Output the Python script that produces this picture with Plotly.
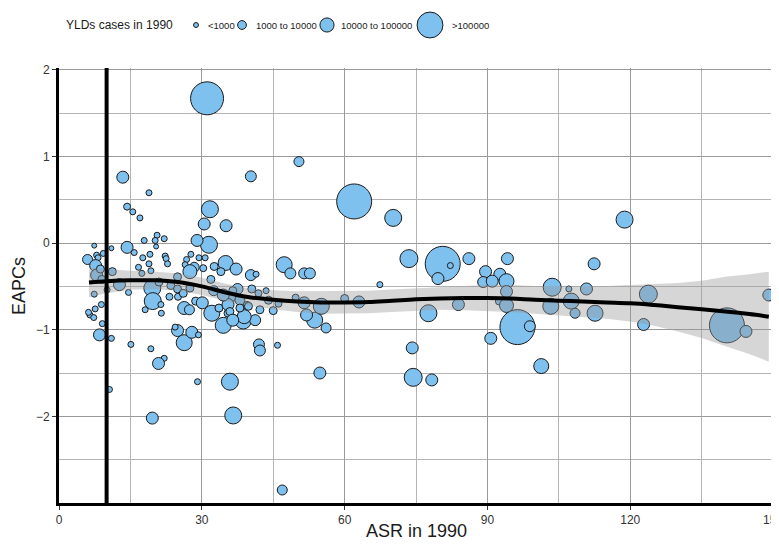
import plotly.graph_objects as go

# ---------------- data ----------------
asr = [31.1, 13.4, 18.9, 14.3, 15.5, 17.0, 31.7, 30.5, 35.1, 40.3, 50.4, 62.0, 70.2, 118.8, 31.5, 29.0,
       7.4, 11.0, 14.3, 6.0, 7.9, 8.2, 7.7, 7.9, 15.8, 17.9, 20.6, 20.2, 22.1, 20.4, 17.6, 19.1, 18.9,
       16.7, 17.4, 22.3, 22.5, 22.8, 19.3, 12.7, 19.6, 23.5, 24.9, 24.9, 19.7, 21.4, 23.2, 25.0, 18.1,
       26.8, 27.7, 29.4, 30.7, 26.5, 28.4, 27.5, 30.3, 32.6, 35.0, 34.0, 31.9, 26.1, 27.5, 28.7, 26.3,
       30.1, 32.1, 33.6, 6.5, 7.6, 8.9, 10.1, 7.4, 7.3, 9.1, 8.5, 11.0, 15.1, 19.3, 22.1, 20.9, 10.6,
       19.6, 29.1, 35.9, 36.6, 24.9, 26.3, 27.9, 29.3, 24.4, 34.5, 38.7, 41.2, 35.5, 42.0, 42.2, 45.9,
       54.8, 53.7, 56.1, 52.0, 21.5, 46.9, 37.2, 40.3, 41.4, 47.3, 48.6, 51.5, 52.7, 67.4, 37.5, 40.5,
       41.9, 49.7, 51.5, 55.1, 46.1, 63.0, 36.3, 42.2, 38.9, 35.5, 35.9, 73.5, 80.6, 82.2, 79.6, 86.1,
       94.2, 89.6, 92.6, 89.1, 91.0, 94.0, 94.0, 92.5, 94.0, 83.9, 77.6, 103.6, 107.1, 107.6, 103.3,
       110.8, 108.4, 112.6, 112.4, 96.3, 98.9, 123.8, 122.8, 140.3, 144.3, 149.1, 101.3, 90.7, 74.2,
       74.4, 78.3, 32.5, 34.5, 36.5, 38.0, 39.5, 44.0, 43.5, 45.0, 27.4, 36.5, 38.0, 39.8, 6.2, 9.0,
       8.7, 11.2, 14.6, 21.0, 60.0, 9.3]

eapc = [1.67, 0.76, 0.58, 0.42, 0.36, 0.29, 0.39, 0.22, 0.20, 0.77, 0.94, 0.48, 0.29, 0.27, -0.02, 0.03,
        -0.03, -0.06, -0.05, -0.19, -0.14, -0.17, -0.26, -0.37, -0.11, 0.03, 0.09, 0.03, 0.05, -0.04,
        -0.17, -0.13, -0.24, -0.28, -0.35, -0.15, -0.18, -0.24, -0.32, -0.48, -0.52, -0.49, -0.39,
        -0.53, -0.67, -0.71, -0.62, -0.62, -0.77, -0.19, -0.13, -0.17, -0.17, -0.25, -0.28, -0.33,
        -0.29, -0.27, -0.23, -0.33, -0.42, -0.58, -0.52, -0.67, -0.75, -0.69, -0.81, -0.75, -0.83,
        -0.76, -0.71, -0.54, -0.59, -0.86, -0.93, -1.06, -1.10, -1.17, -1.22, -1.33, -1.39, -1.69,
        -2.02, -1.60, -1.60, -1.99, -1.01, -1.15, -1.03, -1.06, -0.97, -0.95, -0.90, -0.89, -0.81,
        -1.17, -1.24, -1.18, -1.50, -0.89, -0.98, -0.83, -0.81, -2.85, -0.30, -0.37, -0.36, -0.25,
        -0.35, -0.35, -0.35, -0.48, -0.53, -0.53, -0.58, -0.63, -0.69, -0.73, -0.70, -0.68, -0.63,
        -0.77, -0.85, -0.71, -0.79, -0.18, -0.24, -0.26, -0.41, -0.18, -0.18, -0.33, -0.36, -0.45,
        -0.44, -0.44, -0.56, -0.67, -0.72, -0.71, -0.81, -0.51, -0.53, -0.67, -0.73, -0.53, -0.81,
        -0.81, -0.24, -0.97, -0.96, -0.59, -0.94, -0.95, -1.02, -0.60, -1.42, -1.10, -1.21, -1.55,
        -1.58, -0.55, -0.60, -0.55, -0.66, -0.72, -0.66, -0.55, -0.78, -0.77, -0.89, -0.75, -0.73,
        -0.80, -0.42, -0.30, -0.33, -0.57, -0.45, -0.64, -0.12]

yld_cases = [1186000, 20700, 1300, 2400, 1300, 1300, 83500, 20700, 20700, 14600, 10000, 1500000, 83500,
             83500, 83500, 20700, 600, 600, 20700, 10000, 1300, 1300, 20700, 20700, 1300, 1300, 1300,
             1300, 1300, 600, 1300, 1300, 1300, 1300, 1300, 1300, 1300, 1300, 1300, 20700, 83500, 4100,
             4100, 4100, 83500, 1300, 2400, 2400, 1300, 1300, 1300, 1300, 1300, 1300, 10000, 38400, 2400,
             4100, 50600, 4100, 4100, 4100, 4100, 4100, 28600, 20700, 65500, 4100, 1300, 1300, 1300,
             1300, 1300, 1300, 1300, 20700, 1300, 1300, 1300, 1300, 20700, 1300, 20700, 1300, 83500,
             83500, 20700, 65500, 20700, 1300, 1300, 65500, 65500, 14600, 4100, 14600, 14600, 1300,
             20700, 65500, 10000, 20700, 1300, 10000, 20700, 14600, 1300, 65500, 14600, 14600, 14600,
             1300, 14600, 4100, 2400, 2400, 20700, 65500, 2400, 20700, 4100, 4100, 38400, 20700, 4100,
             105000, 1500000, 1300, 20700, 20700, 20700, 20700, 20700, 14600, 20700, 50600, 20700, 4100,
             38400, 20700, 83500, 105000, 1300, 65500, 65500, 20700, 10000, 65500, 20700, 1500000, 14600,
             105000, 20700, 1500000, 20700, 20700, 50600, 20700, 20700, 105000, 20700, 10000, 20700,
             4100, 10000, 4100, 4100, 1300, 4100, 10000, 20700, 4100, 4100, 1300, 4100, 4100, 4100,
             1300, 4100, 4100, 1300]

smooth_x = [6.3, 10, 15, 20, 25, 30, 35, 40, 45, 50, 55, 60, 65, 70, 75, 80, 85, 90, 95, 100,
            105, 110, 115, 120, 125, 130, 135, 140, 145, 149.1]
smooth_fit = [-0.455, -0.44, -0.43, -0.43, -0.45, -0.50, -0.57, -0.625, -0.655, -0.675, -0.685, -0.685,
              -0.68, -0.665, -0.65, -0.64, -0.635, -0.635, -0.64, -0.655, -0.665, -0.675, -0.685,
              -0.695, -0.715, -0.74, -0.765, -0.79, -0.82, -0.85]
smooth_upper = [-0.285, -0.30, -0.32, -0.33, -0.35, -0.40, -0.47, -0.525, -0.545, -0.555, -0.555, -0.555,
                -0.55, -0.535, -0.52, -0.51, -0.495, -0.485, -0.485, -0.495, -0.495, -0.495, -0.495,
                -0.485, -0.475, -0.46, -0.435, -0.39, -0.36, -0.33]
smooth_lower = [-0.625, -0.58, -0.54, -0.53, -0.55, -0.60, -0.67, -0.725, -0.765, -0.795, -0.815, -0.815,
                -0.81, -0.795, -0.78, -0.77, -0.775, -0.785, -0.795, -0.815, -0.835, -0.855, -0.875,
                -0.905, -0.955, -1.02, -1.095, -1.19, -1.28, -1.37]

ref_asr = 10
legend_labels = ["<1000", "1000 to 10000", "10000 to 100000", ">100000"]
legend_values = [600, 6000, 40000, 450000]
x_ticks = [0, 30, 60, 90, 120, 150]
y_ticks = [-2, -1, 0, 1, 2]

# ---------------- style ----------------
FILL = "#7EC0EE"
FONT = "Liberation Sans, Arial, sans-serif"


def size_of(c):
    return c ** 0.25


fig = go.Figure()
fig.add_trace(go.Scatter(
    x=asr, y=eapc, mode="markers", showlegend=False, hoverinfo="skip",
    marker=dict(size=[size_of(c) for c in yld_cases], color=FILL,
                line=dict(color="#1a1a1a", width=1), opacity=1),
))
fig.add_trace(go.Scatter(x=smooth_x, y=smooth_upper, mode="lines", line=dict(width=0),
                         showlegend=False, hoverinfo="skip"))
fig.add_trace(go.Scatter(x=smooth_x, y=smooth_lower, mode="lines", line=dict(width=0),
                         fill="tonexty", fillcolor="rgba(153,153,153,0.4)",
                         showlegend=False, hoverinfo="skip"))
fig.add_trace(go.Scatter(x=smooth_x, y=smooth_fit, mode="lines",
                         line=dict(color="black", width=4, shape="spline"),
                         showlegend=False, hoverinfo="skip"))

# vertical reference line
fig.add_shape(type="line", xref="x", yref="paper", x0=ref_asr, x1=ref_asr, y0=0, y1=1,
              line=dict(color="black", width=4), layer="above")

# ---------------- layout ----------------
OFF = 8  # page body margin
W, H = 779 - OFF, 545 - OFF
ML, MR, MT, MB = 59 - OFF, 4, 68 - OFF, 42
PW, PH = W - ML - MR, H - MT - MB


def px2x(px):  # page pixel -> paper x
    return (px - OFF - ML) / PW


def py2y(py):  # page pixel -> paper y
    return (H - MB - (py - OFF)) / PH


legend_py = 25
title_left = 64
legend_centers = [196, 242, 327, 430]
legend_text_left = [206, 254, 339, 450]
annotations = [dict(text="YLDs cases in 1990", xref="paper", yref="paper", x=px2x(title_left),
                    y=py2y(legend_py), xanchor="left", yanchor="middle", showarrow=False,
                    font=dict(family=FONT, size=12, color="#1a1a1a"))]
for lab, val, cx, tx in zip(legend_labels, legend_values, legend_centers, legend_text_left):
    r = size_of(val) / 2
    fig.add_shape(type="circle", xref="paper", yref="paper", xsizemode="pixel", ysizemode="pixel",
                  xanchor=px2x(cx), yanchor=py2y(legend_py), x0=-r, x1=r, y0=-r, y1=r,
                  fillcolor=FILL, line=dict(color="#1a1a1a", width=1))
    annotations.append(dict(text=lab, xref="paper", yref="paper", x=px2x(tx), y=py2y(legend_py),
                            xanchor="left", yanchor="middle", showarrow=False,
                            font=dict(family=FONT, size=9.5, color="#1a1a1a")))

# axis titles
annotations.append(dict(text="ASR in 1990", xref="paper", yref="paper", x=px2x(416), y=py2y(531),
                        xanchor="center", yanchor="middle", showarrow=False,
                        font=dict(family=FONT, size=18, color="#1a1a1a")))
annotations.append(dict(text="EAPCs", xref="paper", yref="paper", x=px2x(19), y=py2y(286),
                        xanchor="center", yanchor="middle", showarrow=False, textangle=-90,
                        font=dict(family=FONT, size=18, color="#1a1a1a")))

grid_major = "#9a9a9a"
grid_minor = "#b4b4b4"

fig.update_layout(
    width=W, height=H, margin=dict(l=ML, r=MR, t=MT, b=MB),
    paper_bgcolor="white", plot_bgcolor="white",
    font=dict(family=FONT, color="#333333"),
    annotations=annotations,
    xaxis=dict(range=[0, 150.4], tickvals=x_ticks, showgrid=True, gridcolor=grid_major, gridwidth=1.3,
               minor=dict(dtick=15, tick0=0, showgrid=True, gridcolor=grid_minor, gridwidth=1.1),
               showline=True, linecolor="black", linewidth=3, zeroline=False, automargin=False,
               ticks="outside", ticklen=4, tickcolor="#333333", tickwidth=1,
               ticklabeloverflow="allow",
               tickfont=dict(size=12, color="#333333")),
    yaxis=dict(range=[-3, 2.02], tickvals=y_ticks, showgrid=True, gridcolor=grid_major, gridwidth=1.3,
               minor=dict(tickvals=[-2.5, -1.5, -0.5, 0.5, 1.5], showgrid=True, gridcolor=grid_minor,
                          gridwidth=1.1),
               showline=True, linecolor="black", linewidth=3, zeroline=False, automargin=False,
               ticks="outside", ticklen=4, tickcolor="#333333", tickwidth=1,
               tickfont=dict(size=12, color="#333333")),
)

fig.write_html("out.html")
